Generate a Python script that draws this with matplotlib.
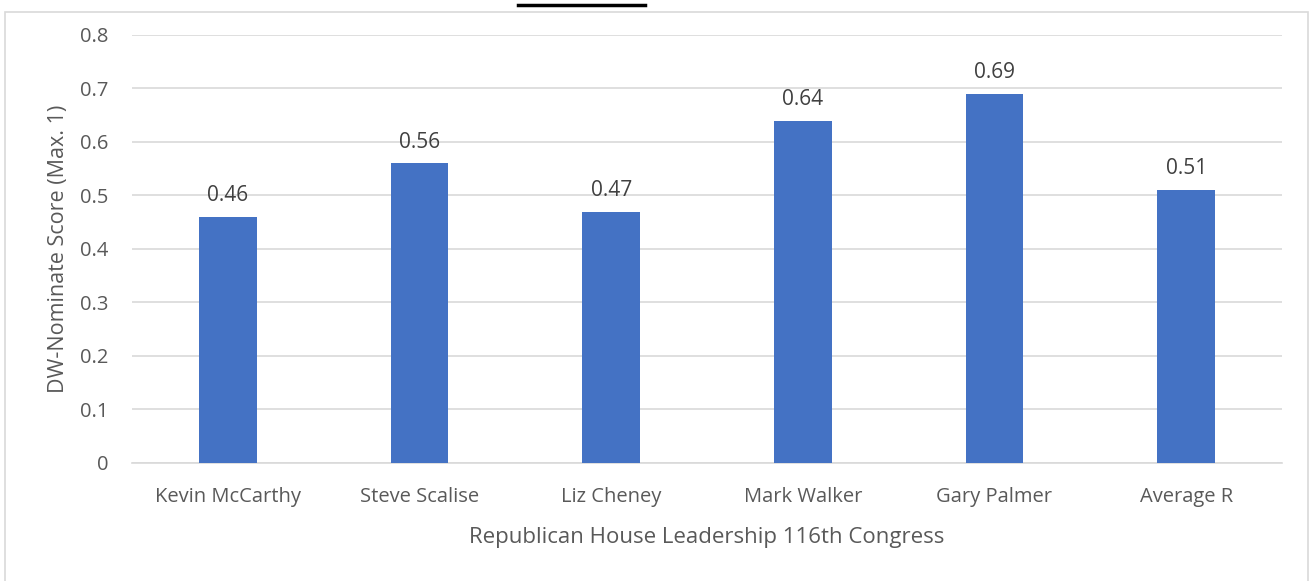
import matplotlib
matplotlib.use("Agg")
import matplotlib.pyplot as plt
from matplotlib.patches import Rectangle
from matplotlib.lines import Line2D

names = ["Kevin McCarthy", "Steve Scalise", "Liz Cheney", "Mark Walker", "Gary Palmer", "Average R"]
scores = [0.46, 0.56, 0.47, 0.64, 0.69, 0.51]
yticks = [0, 0.1, 0.2, 0.3, 0.4, 0.5, 0.6, 0.7, 0.8]

plt.rcParams['font.family'] = ['Open Sans', 'DejaVu Sans']
text_color = "#595959"

fig = plt.figure(figsize=(13.13, 5.81), dpi=100)
ax = fig.add_axes([0.1005, 0.2031, 0.8759, 0.7367])

x = list(range(len(names)))
ax.bar(x, scores, width=0.3, color="#4472C4", zorder=3)
for xi, v in zip(x, scores):
    ax.text(xi, v + 0.02, f"{v:.2f}", ha="center", va="bottom", fontsize=15, color="#404040")

ax.set_xlim(-0.5, len(names) - 0.5)
ax.set_ylim(0, 0.8)
ax.set_yticks(yticks)
ax.set_yticklabels([f"{t:g}" for t in yticks])
ax.set_xticks(x)
ax.set_xticklabels(names)
ax.tick_params(axis="both", length=0, labelsize=14.5, labelcolor=text_color)
ax.tick_params(axis="y", pad=17)
ax.tick_params(axis="x", pad=17)
ax.yaxis.grid(True, color="#d9d9d9", linewidth=1.2, zorder=0)
for s in ["top", "right", "left"]:
    ax.spines[s].set_visible(False)
ax.spines["bottom"].set_color("#d9d9d9")
ax.spines["bottom"].set_linewidth(1.2)

ax.set_xlabel("Republican House Leadership 116th Congress", fontsize=16, color=text_color, labelpad=15)
ax.set_ylabel("DW-Nominate Score (Max. 1)", fontsize=15.5, color=text_color, labelpad=8)

# chart frame and underline of the heading above it
fig.add_artist(Rectangle((5 / 1313, -0.01), 1303 / 1313, 0.9995 - 6 / 581, transform=fig.transFigure,
                         fill=False, edgecolor="#d9d9d9", linewidth=1.2))
fig.add_artist(Line2D([518 / 1313, 645 / 1313], [1 - 4.5 / 581, 1 - 4.5 / 581], transform=fig.transFigure,
                      color="black", linewidth=2.5))

fig.savefig("out.png", dpi=100)
